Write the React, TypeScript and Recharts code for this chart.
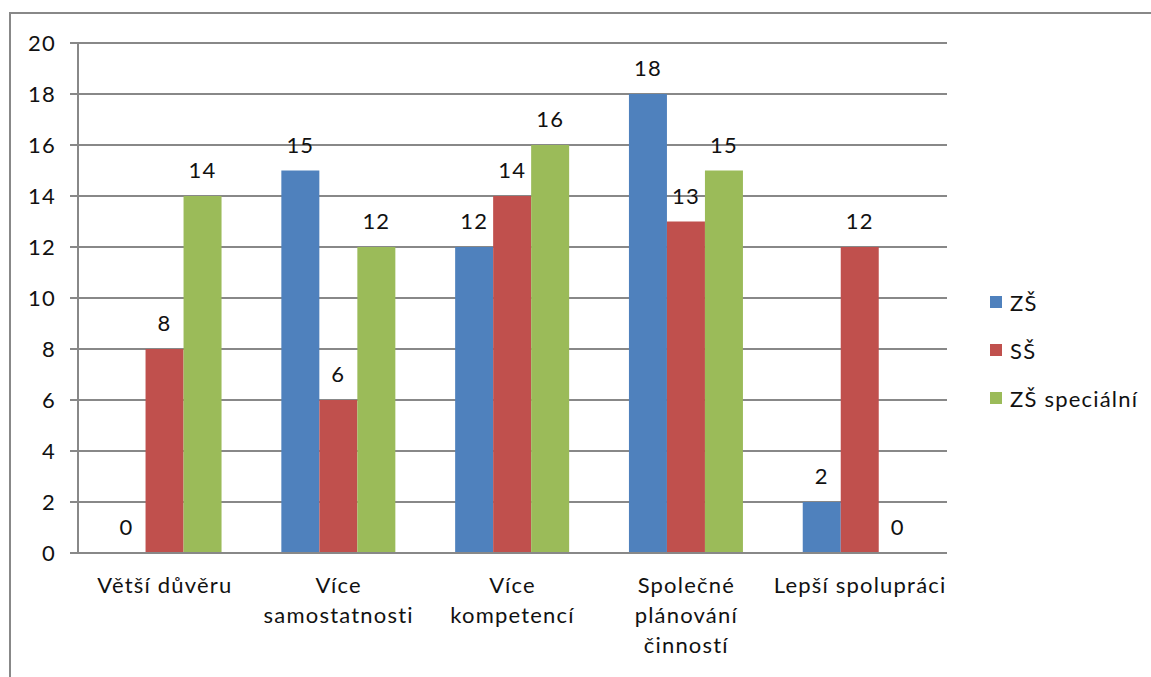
import React from 'react';
import { BarChart, Bar, XAxis, YAxis, CartesianGrid, LabelList } from 'recharts';

const categories = [
  'Větší důvěru',
  'Více\nsamostatnosti',
  'Více\nkompetencí',
  'Společné\nplánování\nčinností',
  'Lepší spolupráci',
];
const seriesNames = ['ZŠ', 'SŠ', 'ZŠ speciální'];
const zs = [0, 15, 12, 18, 2];
const ss = [8, 6, 14, 13, 12];
const zsSpecial = [14, 12, 16, 15, 0];
const yTicks = [0, 2, 4, 6, 8, 10, 12, 14, 16, 18, 20];
const boundaryTicks = [0, 1, 2, 3, 4, 5];

const colors = ['#4F81BD', '#C0504D', '#9BBB59'];
const gray = '#888888';
const font = 'Lato, "Open Sans", sans-serif';
const fs = 22;
const ls = 1.2;

const data = categories.map((name, i) => ({
  name,
  zs: zs[i],
  ss: ss[i],
  zsSpecial: zsSpecial[i],
}));
const keys = ['zs', 'ss', 'zsSpecial'];

const CategoryTick = (props: any) => {
  const { x, y, payload } = props;
  const lines = String(payload.value).split('\n');
  return (
    <text x={x} y={y} textAnchor="middle" fill="#111" fontSize={fs} letterSpacing={ls} fontFamily={font}>
      {lines.map((l, i) => (
        <tspan key={i} x={x} dy={i === 0 ? 22 : 30}>
          {l}
        </tspan>
      ))}
    </text>
  );
};

const ValueLabel = (props: any) => {
  const { x, y, width, height, value } = props;
  if (value === undefined || value === null) return null;
  // for the zero bars the rect is a hairline, put the label on the baseline
  const top = Math.min(y, y + height);
  return (
    <text x={x + width / 2} y={top - 18} textAnchor="middle" fill="#111" fontSize={fs} letterSpacing={ls} fontFamily={font}>
      {value}
    </text>
  );
};

export default function App() {
  return (
    <div style={{ position: 'absolute', left: 0, top: 0, width: 1151, height: 677, background: '#fff', overflow: 'hidden', fontFamily: font }}>
      <div
        style={{
          position: 'absolute',
          left: 9,
          top: 12,
          width: 1200,
          height: 700,
          borderLeft: `2px solid ${gray}`,
          borderTop: `2px solid ${gray}`,
        }}
      />
      <div style={{ position: 'absolute', left: 0, top: 0 }}>
        <BarChart
          width={1151}
          height={677}
          data={data}
          margin={{ top: 43, right: 204, bottom: 4, left: 0 }}
          barCategoryGap="17%"
          barGap={0}
        >
          <CartesianGrid vertical={false} stroke={gray} strokeWidth={2} />
          <XAxis
            xAxisId="b"
            type="number"
            domain={[0, 5]}
            ticks={boundaryTicks}
            tick={false}
            height={10}
            tickSize={9}
            axisLine={{ stroke: gray, strokeWidth: 2 }}
            tickLine={{ stroke: gray, strokeWidth: 2 }}
          />
          <XAxis
            xAxisId="cat"
            dataKey="name"
            height={110}
            axisLine={false}
            tickLine={false}
            interval={0}
            tick={<CategoryTick />}
          />
          <YAxis
            domain={[0, 20]}
            ticks={yTicks}
            interval={0}
            width={78}
            tickSize={8}
            tickMargin={14}
            axisLine={{ stroke: gray, strokeWidth: 2 }}
            tickLine={{ stroke: gray, strokeWidth: 2 }}
            tick={{ fill: '#111', fontSize: fs, fontFamily: font, letterSpacing: ls }}
          />
          {keys.map((k, i) => (
            <Bar
              key={k}
              xAxisId="cat"
              dataKey={k}
              name={seriesNames[i]}
              fill={colors[i]}
              minPointSize={0.01}
              isAnimationActive={false}
            >
              <LabelList dataKey={k} content={<ValueLabel />} />
            </Bar>
          ))}
        </BarChart>
      </div>
      <div style={{ position: 'absolute', left: 990, top: 286 }}>
        {seriesNames.map((n, i) => (
          <div key={n} style={{ display: 'flex', alignItems: 'center', height: 32, marginBottom: 16 }}>
            <div style={{ width: 12, height: 12, background: colors[i], marginRight: 8 }} />
            <span style={{ fontSize: fs, color: '#111', letterSpacing: ls }}>{n}</span>
          </div>
        ))}
      </div>
    </div>
  );
}
